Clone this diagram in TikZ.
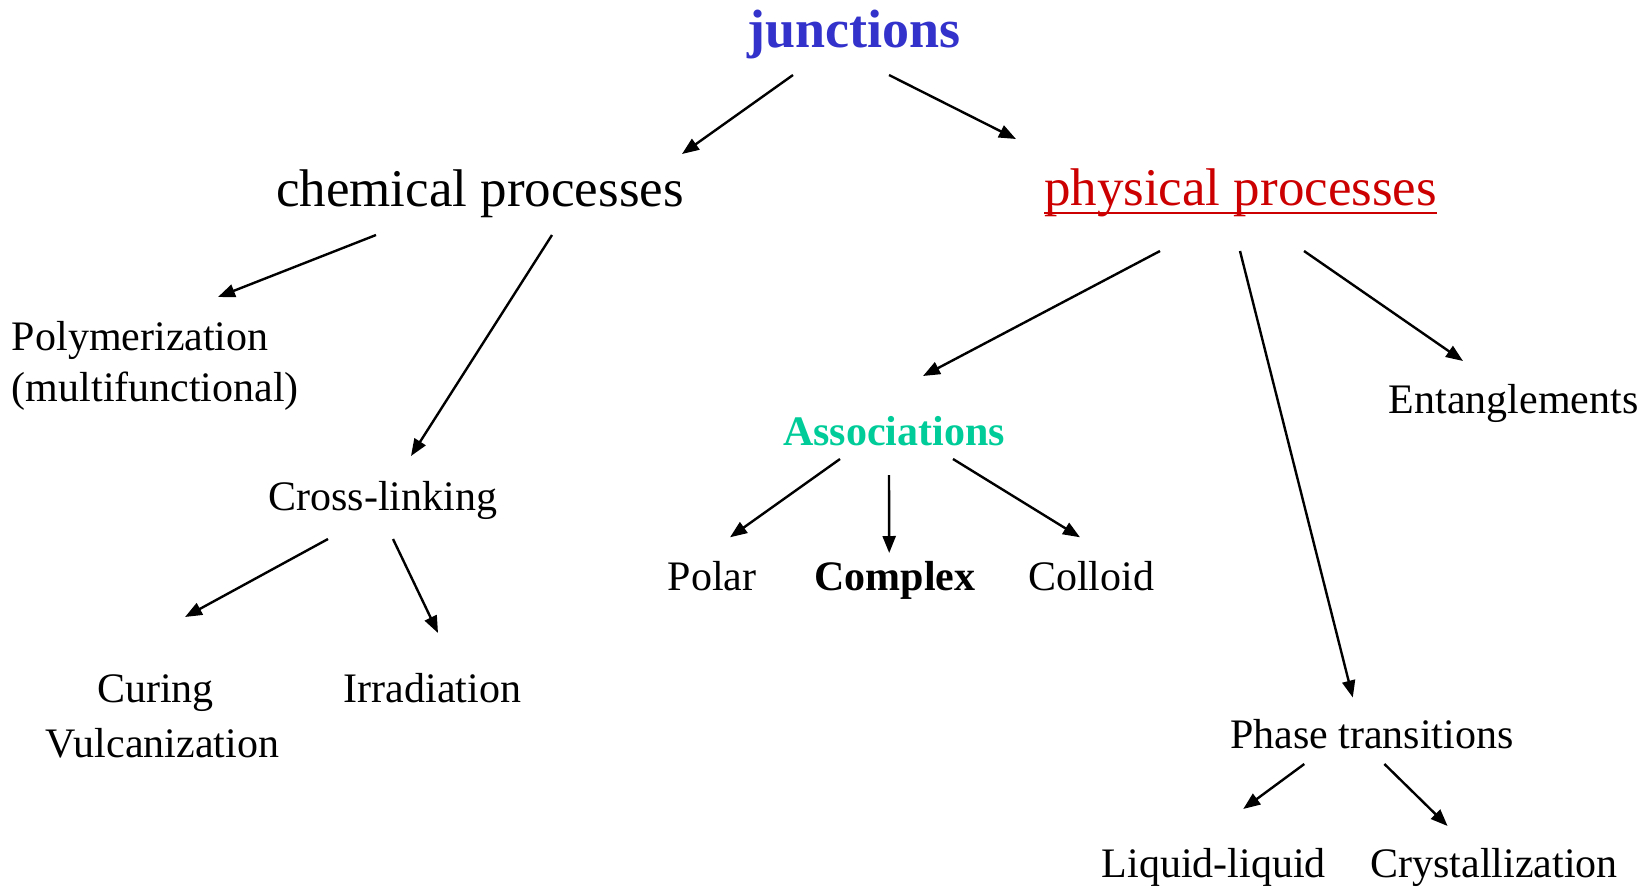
\documentclass[tikz,border=0pt]{standalone}
\usepackage{fontspec}
\setmainfont{Liberation Serif}
\usetikzlibrary{arrows.meta}
\definecolor{jblue}{HTML}{3333CC}
\definecolor{pred}{HTML}{CC0000}
\definecolor{ateal}{HTML}{00CC99}
\tikzset{
  lbl/.style={inner sep=0pt, outer sep=0pt, anchor=base, font=\fontsize{42}{50}\selectfont},
  big/.style={lbl, font=\fontsize{53}{60}\selectfont},
  arr/.style={line width=2.4pt, -{Triangle[length=17pt,width=13pt]}}
}
\begin{document}
\begin{tikzpicture}[x=1pt,y=-1pt]
\useasboundingbox[fill=white] (0,0) rectangle (1652,887);
% nodes
\node[big, font=\fontsize{54}{60}\selectfont\bfseries, text=jblue] (junc) at (854,47) {junctions};
\node[big] (chem) at (480,206) {chemical processes};
\node[big, text=pred] (phys) at (1240.5,205) {physical processes};
\node[lbl, anchor=base west] (poly) at (12,350)
  {\setlength{\tabcolsep}{0pt}\begin{tabular}[t]{@{}l@{}}Polymerization\\[1pt](multifunctional)\end{tabular}};
\node[lbl] (cross) at (383,510) {Cross-linking};
\node[lbl] (cure) at (162.5,702)
  {\setlength{\tabcolsep}{0pt}\begin{tabular}[t]{@{}c@{}}Curing\hspace*{14pt}\\[5pt]Vulcanization\end{tabular}};
\node[lbl] (irr) at (432.5,702) {Irradiation};
\node[lbl, font=\fontsize{42}{50}\selectfont\bfseries, text=ateal] (assoc) at (894,445) {Associations};
\node[lbl] (polar) at (712,590) {Polar};
\node[lbl, font=\fontsize{42}{50}\selectfont\bfseries] (complex) at (895,590) {Complex};
\node[lbl] (colloid) at (1091,590) {Colloid};
\node[lbl] (ent) at (1513.5,413) {Entanglements};
\node[lbl] (phase) at (1371.8,748) {Phase transitions};
\node[lbl] (liq) at (1213.7,877) {Liquid-liquid};
\node[lbl] (cry) at (1494,877) {Crystallization};
% underline of physical processes
\draw[pred, line width=2.6pt] ([yshift=-8]phys.base west) -- ([yshift=-8]phys.base east);
% connectors
\draw[arr] ([shift={(-61,28)}]junc.base) -- ([shift={(202,-52)}]chem.base);
\draw[arr] ([shift={(35,28)}]junc.base) -- ([shift={(-224.5,-66)}]phys.base);
\draw[arr] ([shift={(-104,29)}]chem.base) -- ([shift={(206,-53)}]poly.base west);
\draw[arr] ([shift={(72,29)}]chem.base) -- ([shift={(28,-54)}]cross.base);
\draw[arr] ([shift={(-80.5,46)}]phys.base) -- ([shift={(29,-69)}]assoc.base);
\draw[arr] ([shift={(-0.5,46)}]phys.base) -- ([shift={(-19,-50.5)}]phase.base);
\draw[arr] ([shift={(63.5,46)}]phys.base) -- ([shift={(-50.5,-52)}]ent.base);
\draw[arr] ([shift={(-54,14)}]assoc.base) -- ([shift={(18,-52.7)}]polar.base);
\draw[arr] ([shift={(-5,30)}]assoc.base) -- ([shift={(-5.8,-37)}]complex.base);
\draw[arr] ([shift={(59,14)}]assoc.base) -- ([shift={(-11,-52.7)}]colloid.base);
\draw[arr] ([shift={(-55,29)}]cross.base) -- ([shift={(22.5,-85)}]cure.base);
\draw[arr] ([shift={(10,29)}]cross.base) -- ([shift={(5.5,-69)}]irr.base);
\draw[arr] ([shift={(-67.5,16)}]phase.base) -- ([shift={(29.5,-68)}]liq.base);
\draw[arr] ([shift={(12.6,16)}]phase.base) -- ([shift={(-46.4,-51)}]cry.base);
\end{tikzpicture}
\end{document}
